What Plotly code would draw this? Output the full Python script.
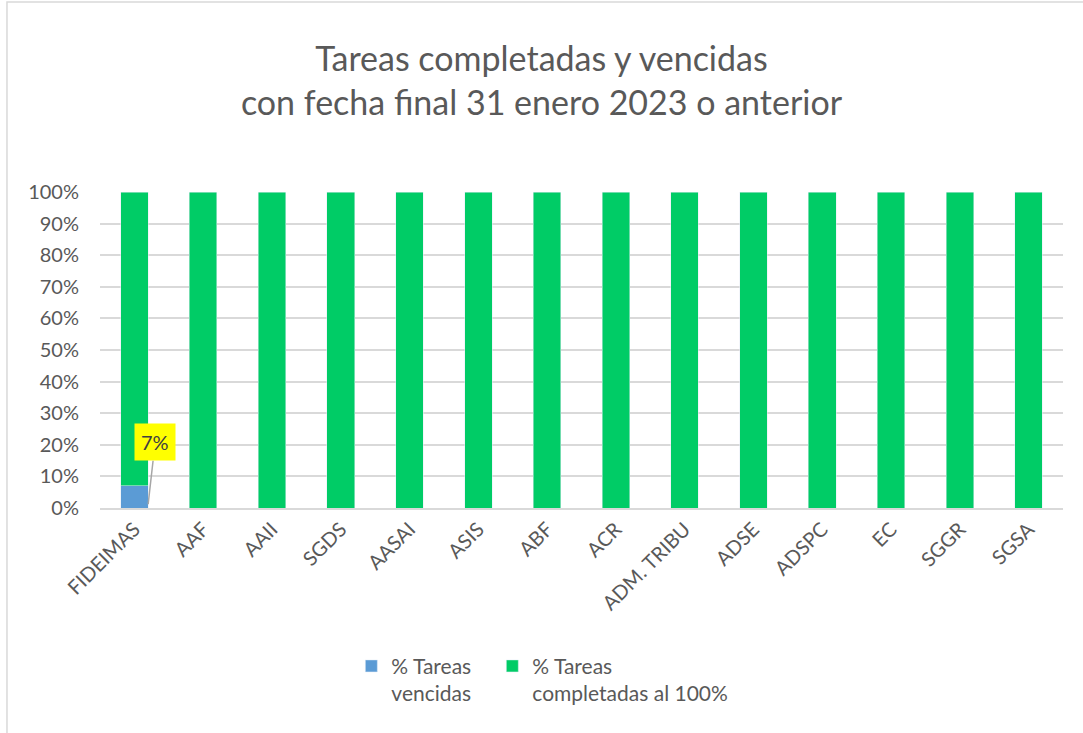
import plotly.graph_objects as go

categories = ["FIDEIMAS", "AAF", "AAII", "SGDS", "AASAI", "ASIS", "ABF", "ACR",
              "ADM. TRIBU", "ADSE", "ADSPC", "EC", "SGGR", "SGSA"]
vencidas = [0.07, 0, 0, 0, 0, 0, 0, 0, 0, 0, 0, 0, 0, 0]
completadas = [0.93, 1, 1, 1, 1, 1, 1, 1, 1, 1, 1, 1, 1, 1]

FONT = "Lato"
GREY = "#595959"
NB = "\u00a0"

fig = go.Figure()
fig.add_trace(go.Bar(
    x=categories, y=vencidas, name="% Tareas" + NB * 3 + "<br>vencidas",
    marker=dict(color="#5B9BD5"), width=0.4,
))
fig.add_trace(go.Bar(
    x=categories, y=completadas, name="% Tareas<br>completadas al 100%",
    marker=dict(color="#00CC66"), width=0.4,
))

# data label for the only non-zero "vencidas" value
fig.add_annotation(
    x=0.2, y=0.012, xref="x", yref="y",
    text="7%", showarrow=True, arrowhead=0, arrowwidth=1.5, arrowcolor="#a6a6a6",
    ax=7, ay=-62, bgcolor="#FFFF00", borderpad=6,
    font=dict(family=FONT, size=20, color="#404040"),
)

# outer chart border
fig.add_shape(type="rect", xref="paper", yref="paper",
              x0=-0.0966, x1=1.05, y0=-0.85, y1=1.601,
              line=dict(color="#d9d9d9", width=1.5), fillcolor="rgba(0,0,0,0)")

fig.update_layout(
    barmode="stack",
    width=1083, height=733,
    margin=dict(l=100, r=20, t=192, b=225),
    paper_bgcolor="white", plot_bgcolor="white",
    font=dict(family=FONT, color=GREY),
    title=dict(
        text="Tareas completadas y vencidas<br>con fecha final 31 enero 2023 o anterior",
        x=0.5, xanchor="center", y=0.903, yanchor="top",
        font=dict(family=FONT, size=34, color=GREY),
    ),
    xaxis=dict(
        tickangle=-45, tickfont=dict(size=20, color=GREY), automargin=False,
        showline=True, linecolor="#d9d9d9", linewidth=1.5, ticks="",
    ),
    yaxis=dict(
        range=[0, 1], dtick=0.1, tickformat=".0%", automargin=False,
        tickfont=dict(size=20, color=GREY),
        showgrid=True, gridcolor="#d9d9d9", gridwidth=1.5, zeroline=False,
        ticklabelstandoff=20,
    ),
    legend=dict(
        orientation="h", x=0.261, xanchor="left", y=-0.436, yanchor="top",
        font=dict(family=FONT, size=21, color=GREY), valign="top",
        itemwidth=30, traceorder="normal",
    ),
    showlegend=True,
)

# drop the browser's default body margin so the figure sits at the page corner
fig.write_html(
    "out.html",
    config={"displayModeBar": False},
    post_script="document.body.style.margin='0px';",
)
